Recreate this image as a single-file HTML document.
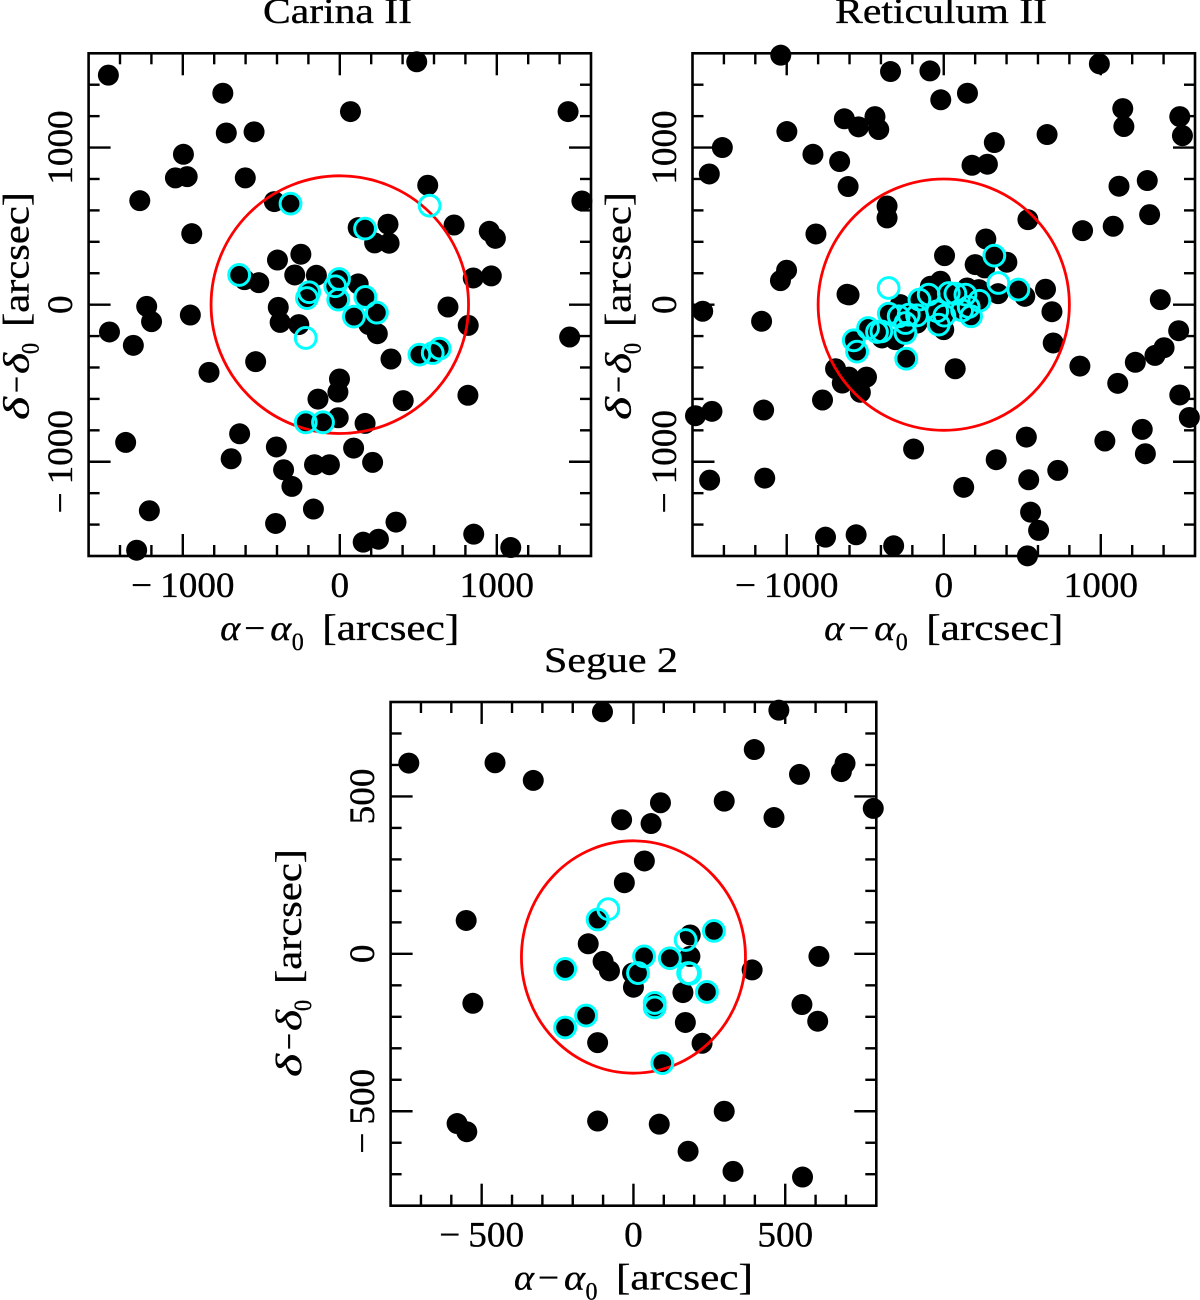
<!DOCTYPE html>
<html lang="en">
<head>
<meta charset="utf-8">
<title>Carina II, Reticulum II, Segue 2 star maps</title>
<style>
html,body{margin:0;padding:0;background:#fff;width:1200px;height:1300px;overflow:hidden}
svg{display:block}
text{font-family:"Liberation Serif",serif;fill:#000;stroke:#000;stroke-width:0.35px}
</style>
</head>
<body>
<svg id="chart" xmlns="http://www.w3.org/2000/svg" width="1200" height="1300" viewBox="0 0 1200 1300"></svg>
<script>
// ---------- Data (arcsec offsets) ----------
const carinaStars = [[-1474,1461],[490,1546],[-745,1346],[68,1229],[1454,1229],[-723,1093],[-546,1100],[-996,957],[-1047,807],[-972,815],[-602,807],[-1274,662],[560,760],[1542,660],[-417,656],[-314,643],[307,512],[117,490],[161,484],[222,393],[314,391],[728,507],[952,467],[991,422],[-943,452],[-248,321],[-397,284],[-287,189],[-149,187],[-641,189],[-607,159],[-516,140],[-5,163],[-29,117],[-10,32],[163,49],[90,-76],[236,-51],[-195,79],[-209,42],[117,132],[850,170],[965,183],[689,-15],[-1230,-11],[-1199,-108],[-952,-66],[-392,-17],[-380,-113],[-261,-127],[-1467,-174],[-1315,-259],[818,-132],[1464,-206],[185,-127],[239,-185],[326,-346],[-536,-363],[-833,-431],[-2,-473],[-12,-556],[-139,-601],[404,-611],[816,-577],[-10,-720],[-217,-749],[-107,-749],[161,-756],[-638,-822],[-1364,-877],[-404,-906],[88,-913],[-692,-981],[-161,-1019],[-66,-1019],[209,-1004],[-358,-1051],[-305,-1157],[-1213,-1312],[-168,-1301],[-409,-1393],[358,-1384],[853,-1461],[149,-1512],[246,-1493],[-1294,-1563],[1089,-1546],[507,-318],[636,-280],[592,-308]];
const carinaMembers = [[-641,189],[-314,643],[161,484],[572,630],[-5,163],[-29,117],[-10,32],[163,49],[90,-76],[236,-51],[-195,79],[-209,42],[-217,-212],[507,-318],[636,-280],[592,-308],[-217,-749],[-107,-749]];
const carinaRadius = [820];
const carinaCenter = [0,0];

const reticulumStars = [[-1038,1588],[-339,1484],[-88,1488],[991,1533],[-19,1304],[151,1346],[1140,1248],[1147,1134],[-633,1183],[-543,1132],[-438,1197],[-414,1115],[-999,1102],[658,1083],[1503,1197],[1520,1076],[-1410,1000],[322,1032],[-833,957],[-663,911],[180,887],[278,894],[-1493,832],[1296,790],[1116,754],[-609,752],[-361,628],[-361,552],[536,541],[884,471],[1079,499],[1311,573],[-814,450],[268,418],[5,312],[200,255],[261,234],[402,270],[322,312],[-1001,219],[-1040,153],[346,70],[475,96],[516,53],[648,98],[-616,66],[-603,62],[1379,32],[-1535,-42],[689,-45],[-1160,-106],[1496,-166],[697,-244],[1403,-274],[1345,-323],[1220,-367],[867,-391],[-239,-344],[73,-408],[-689,-408],[-604,-461],[-492,-461],[-646,-499],[-531,-558],[1108,-501],[1503,-575],[-772,-607],[-1581,-707],[-1476,-679],[-1147,-671],[1564,-718],[526,-843],[1264,-794],[-192,-919],[1026,-868],[334,-987],[1284,-949],[726,-1055],[-1491,-1117],[-1140,-1104],[541,-1115],[127,-1163],[553,-1321],[604,-1437],[-753,-1480],[-558,-1465],[-319,-1535],[533,-1599],[-573,-227],[-552,-299],[-482,-149],[-425,-174],[-397,-170],[-350,-57],[-244,-180],[-244,-117],[-287,-74],[-223,-64],[-170,-68],[-155,32],[-96,64],[-42,-42],[-32,-127],[4,-70],[32,74],[74,70],[138,64],[159,-15],[117,-36],[174,-74],[227,25],[-21,149],[-85,117],[-276,0],[-393,-212],[-308,-223],[0,-159],[149,106],[223,96],[-170,-117],[-21,32],[74,-11]];
const reticulumMembers = [[322,312],[348,138],[475,96],[-351,106],[-239,-344],[-573,-227],[-552,-299],[-482,-149],[-425,-174],[-397,-170],[-350,-57],[-244,-180],[-244,-117],[-287,-74],[-223,-64],[-170,-68],[-155,32],[-96,64],[-42,-42],[-32,-127],[4,-70],[32,74],[74,70],[138,64],[159,-15],[117,-36],[174,-74],[227,25]];
const reticulumRadius = [800];
const reticulumCenter = [0,0];

const segueStars = [[-740,606],[-456,607],[-330,551],[-102,769],[479,774],[398,649],[547,570],[697,605],[685,579],[89,480],[299,485],[-39,426],[58,414],[463,433],[790,462],[36,295],[-30,226],[-551,106],[-118,109],[-149,32],[187,60],[265,73],[611,-8],[-100,-24],[186,-8],[35,-8],[120,-14],[-225,-48],[-79,-54],[391,-51],[-3,-61],[15,-61],[0,-106],[163,-123],[242,-121],[70,-156],[70,-170],[-529,-157],[555,-161],[607,-214],[-156,-196],[-225,-234],[171,-218],[-118,-282],[226,-284],[95,-347],[299,-500],[-581,-539],[-549,-565],[-118,-531],[85,-541],[180,-627],[328,-691],[557,-709]];
const segueMembers = [[-118,109],[-83,142],[172,44],[265,73],[35,-8],[120,-14],[-225,-48],[15,-61],[180,-61],[186,-63],[242,-121],[70,-156],[70,-170],[-156,-196],[-225,-234],[95,-347]];
const segueRadius = [369];
const segueCenter = [0,-10];

const wideLimits = [-1600,1600];
const wideMajorTicks = [-1000,0,1000];
const wideTickLabels = ['\u22121000','0','1000'];
const wideMinorStep = [200];
const narrowLimits = [-800,800];
const narrowMajorTicks = [-500,0,500];
const narrowTickLabels = ['\u2212500','0','500'];
const narrowMinorStep = [100];

const panelTitles = ['Carina II','Reticulum II','Segue 2'];

// ---------- Layout ----------
const NS = 'http://www.w3.org/2000/svg';
const root = document.getElementById('chart');
const panels = [
  {key:'carina',title:panelTitles[0],stars:carinaStars,members:carinaMembers,radius:carinaRadius,center:carinaCenter,limits:wideLimits,majors:wideMajorTicks,labels:wideTickLabels,step:wideMinorStep,
   left:88.6,right:591,top:53.3,bottom:556,titleX:263,titleW:149,titleY:23,ylabBase:28.7,ylabStart:420},
  {key:'reticulum',title:panelTitles[1],stars:reticulumStars,members:reticulumMembers,radius:reticulumRadius,center:reticulumCenter,limits:wideLimits,majors:wideMajorTicks,labels:wideTickLabels,step:wideMinorStep,
   left:692.5,right:1195,top:53.3,bottom:556,titleX:835,titleW:212,titleY:23,ylabBase:630.6,ylabStart:420},
  {key:'segue',title:panelTitles[2],stars:segueStars,members:segueMembers,radius:segueRadius,center:segueCenter,limits:narrowLimits,majors:narrowMajorTicks,labels:narrowTickLabels,step:narrowMinorStep,
   left:390.6,right:876.3,top:702,bottom:1205.7,titleX:544,titleW:134,titleY:672,ylabBase:301,ylabStart:1077}
];

function addText(parent, str, x, y, w, size, italic, name) {
  const t = document.createElementNS(NS, 'text');
  
  
  t.setAttribute('x', x);
  t.setAttribute('y', y);
  t.setAttribute('font-size', size);
  t.setAttribute('textLength', w);
  t.setAttribute('lengthAdjust', 'spacingAndGlyphs');
  if (italic) t.setAttribute('font-style', 'italic');
  t.textContent = str;
  parent.appendChild(t);
  return t;
}

function addTick(parent, x1, y1, x2, y2, name) {
  const l = document.createElementNS(NS, 'line');
  
  
  l.setAttribute('x1', x1);
  l.setAttribute('y1', y1);
  l.setAttribute('x2', x2);
  l.setAttribute('y2', y2);
  l.setAttribute('stroke', '#000');
  l.setAttribute('stroke-width', '2.4');
  parent.appendChild(l);
}

function drawTickLabel(parent, label, tx, ty, rotated, name) {
  const g = document.createElementNS(NS, 'g');
  
  
  g.setAttribute('transform', 'translate(' + tx + ' ' + ty + ')' + (rotated ? ' rotate(-90)' : ''));
  const neg = label.charAt(0) === '\u2212';
  const digits = neg ? label.slice(1) : label;
  const dw = digits.length * 18.6;
  const total = dw + (neg ? 29 : 0);
  let cursor = -total / 2;
  if (neg) {
    addText(g, '\u2212', cursor, 0, 21, 36, false, 'tick-minus-sign');
    cursor += 29;
  }
  addText(g, digits, cursor, 0, dw, 36, false, 'tick-digits');
  parent.appendChild(g);
}

panels.forEach(function (p) {
  const sx = function (v) { return p.left + (v - p.limits[0]) / (p.limits[1] - p.limits[0]) * (p.right - p.left); };
  const sy = function (v) { return p.bottom - (v - p.limits[0]) / (p.limits[1] - p.limits[0]) * (p.bottom - p.top); };

  const g = document.createElementNS(NS, 'g');
  
  
  root.appendChild(g);

  addText(g, p.title, p.titleX, p.titleY, p.titleW, 36, false, p.key + '-title');

  const frame = document.createElementNS(NS, 'rect');
  
  
  frame.setAttribute('x', p.left);
  frame.setAttribute('y', p.top);
  frame.setAttribute('width', p.right - p.left);
  frame.setAttribute('height', p.bottom - p.top);
  frame.setAttribute('fill', 'none');
  frame.setAttribute('stroke', '#000');
  frame.setAttribute('stroke-width', '2.6');
  g.appendChild(frame);

  // ticks on all four sides
  const step = p.step[0];
  for (let v = p.limits[0] + step; v < p.limits[1]; v += step) {
    const len = p.majors.indexOf(v) >= 0 ? 22 : 11;
    addTick(g, sx(v), p.bottom, sx(v), p.bottom - len, p.key + '-x-tick-bottom');
    addTick(g, sx(v), p.top, sx(v), p.top + len, p.key + '-x-tick-top');
    addTick(g, p.left, sy(v), p.left + len, sy(v), p.key + '-y-tick-left');
    addTick(g, p.right, sy(v), p.right - len, sy(v), p.key + '-y-tick-right');
  }

  // tick labels
  p.majors.forEach(function (v, i) {
    drawTickLabel(g, p.labels[i], sx(v), p.bottom + 41, false, p.key + '-x-tick-label');
    drawTickLabel(g, p.labels[i], p.left - 16.5, sy(v), true, p.key + '-y-tick-label');
  });

  // x axis title
  const xt = document.createElementNS(NS, 'g');
  
  
  xt.setAttribute('transform', 'translate(' + ((p.left + p.right) / 2 - 119.5) + ' ' + (p.bottom + 84) + ')');
  addText(xt, '\u03b1', 0, 0, 20, 36, true, 'alpha-symbol');
  addText(xt, '\u2212', 24, 0, 21, 36, false, 'minus-symbol');
  addText(xt, '\u03b1', 50, 0, 21, 36, true, 'alpha-zero-symbol');
  addText(xt, '0', 71.5, 10, 12, 25, false, 'zero-subscript');
  addText(xt, '[arcsec]', 102, 0, 137, 37, false, 'unit-label');
  g.appendChild(xt);

  // y axis title
  const yt = document.createElementNS(NS, 'g');
  
  
  yt.setAttribute('transform', 'translate(' + p.ylabBase + ' ' + p.ylabStart + ') rotate(-90)');
  addText(yt, '\u03b4', 0, 0, 23, 36, true, 'delta-symbol');
  addText(yt, '\u2212', 27, 0, 17, 36, false, 'minus-symbol');
  addText(yt, '\u03b4', 46, 0, 21, 36, true, 'delta-zero-symbol');
  addText(yt, '0', 66, 10, 11, 25, false, 'zero-subscript');
  addText(yt, '[arcsec]', 93, 0, 135, 37, false, 'unit-label');
  g.appendChild(yt);

  // field stars
  p.stars.forEach(function (s) {
    const c = document.createElementNS(NS, 'circle');
    
    
    c.setAttribute('cx', sx(s[0]));
    c.setAttribute('cy', sy(s[1]));
    c.setAttribute('r', '10.5');
    c.setAttribute('fill', '#000');
    g.appendChild(c);
  });

  // radius ring
  const ring = document.createElementNS(NS, 'ellipse');
  
  
  ring.setAttribute('cx', sx(p.center[0]));
  ring.setAttribute('cy', sy(p.center[1]));
  ring.setAttribute('rx', sx(p.center[0] + p.radius[0]) - sx(p.center[0]));
  ring.setAttribute('ry', sy(p.center[1]) - sy(p.center[1] + p.radius[0]));
  ring.setAttribute('fill', 'none');
  ring.setAttribute('stroke', '#f00');
  ring.setAttribute('stroke-width', '2.8');
  g.appendChild(ring);

  // member rings
  p.members.forEach(function (s) {
    const c = document.createElementNS(NS, 'circle');
    
    
    c.setAttribute('cx', sx(s[0]));
    c.setAttribute('cy', sy(s[1]));
    c.setAttribute('r', '10.4');
    c.setAttribute('fill', 'none');
    c.setAttribute('stroke', '#0ff');
    c.setAttribute('stroke-width', '3');
    g.appendChild(c);
  });
});
</script>
</body>
</html>
